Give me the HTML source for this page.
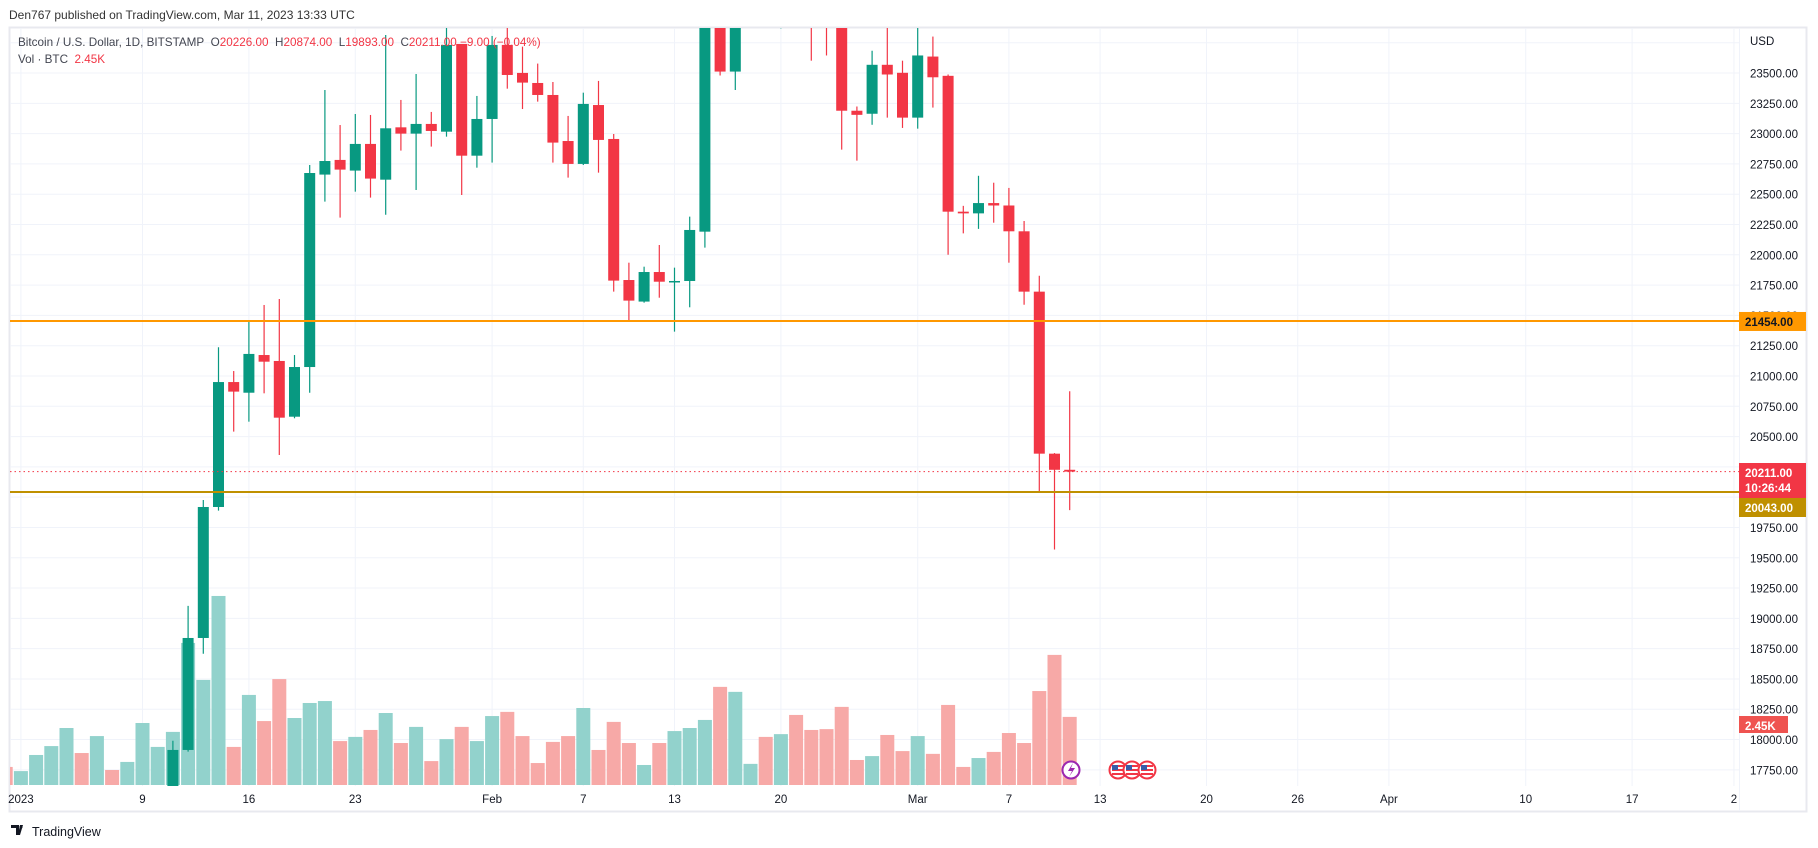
<!DOCTYPE html>
<html><head><meta charset="utf-8"><style>
html,body{margin:0;padding:0;background:#fff;overflow:hidden;width:1818px;height:848px;}
svg{display:block;font-family:"Liberation Sans",sans-serif;}
</style></head><body>
<svg id="chart" width="1818" height="848" viewBox="0 0 1818 848">
<text x="9" y="19" font-size="12" fill="#333">Den767 published on TradingView.com, Mar 11, 2023 13:33 UTC</text>
<rect x="9.5" y="27.5" width="1797" height="784" fill="#fff" stroke="#e8e9ef" stroke-width="2"/>
<g id="grid"></g>
<defs><clipPath id="pane"><rect x="10" y="28" width="1729" height="758"/></clipPath></defs>
<g id="vol" clip-path="url(#pane)"></g>
<g id="candles" clip-path="url(#pane)"></g>
<g id="lines"></g>
<g id="axis"></g>
<g id="taxis"></g>
<g>
<text x="18" y="46" font-size="11.7" fill="#434651">Bitcoin / U.S. Dollar, 1D, BITSTAMP&#160;&#160;O<tspan fill="#f23645">20226.00</tspan>&#160;&#160;H<tspan fill="#f23645">20874.00</tspan>&#160;&#160;L<tspan fill="#f23645">19893.00</tspan>&#160;&#160;C<tspan fill="#f23645">20211.00 −9.00 (−0.04%)</tspan></text>
<text x="18" y="63" font-size="11.7" fill="#434651">Vol · BTC&#160;&#160;<tspan fill="#f23645">2.45K</tspan></text>
</g>
<g>
<circle cx="1071" cy="770" r="8.5" fill="#fff" stroke="#9c27b0" stroke-width="2"/>
<path d="M1073 763 L1068 771 L1072 771 L1069 777 L1075 768 L1071 768 Z" fill="#9c27b0"/>
<g>
<circle cx="1118" cy="770" r="8.5" fill="#fff" stroke="#f23645" stroke-width="2"/>
<rect x="1112" y="765" width="12" height="10" fill="#f23645"/><rect x="1112" y="767" width="12" height="2" fill="#fff"/><rect x="1112" y="771" width="12" height="2" fill="#fff"/><rect x="1112" y="765" width="6" height="5" fill="#3a5ca8"/>
<circle cx="1132" cy="770" r="8.5" fill="#fff" stroke="#f23645" stroke-width="2"/>
<rect x="1126" y="765" width="12" height="10" fill="#f23645"/><rect x="1126" y="767" width="12" height="2" fill="#fff"/><rect x="1126" y="771" width="12" height="2" fill="#fff"/><rect x="1126" y="765" width="6" height="5" fill="#3a5ca8"/>
<circle cx="1147" cy="770" r="8.5" fill="#fff" stroke="#f23645" stroke-width="2"/>
<rect x="1141" y="765" width="12" height="10" fill="#f23645"/><rect x="1141" y="767" width="12" height="2" fill="#fff"/><rect x="1141" y="771" width="12" height="2" fill="#fff"/><rect x="1141" y="765" width="6" height="5" fill="#3a5ca8"/>
</g></g>
<g>
<path d="M11 825 h8 v10 h-3 v-7 h-5 Z M20 825 h3 l-3 10 h-2 Z" fill="#131722"/>
<circle cx="21" cy="827" r="1.5" fill="#131722"/>
<text x="32" y="836" font-size="12.5" fill="#131722">TradingView</text>
</g>
</svg>
<script>
const NS='http://www.w3.org/2000/svg';
const startDay=-1;
const opens =[16600,16540,16620,16680,16690,16860,16830,16950,16940,17130,17190,17440,17914,18838,19919,20950,20862,21173,21124,20664,21074,22662,22783,22695,22915,22620,23052,23000,23080,23016,23740,22818,23121,23732,23501,23418,23319,22939,22750,23236,22956,21792,21614,21858,21778,21784,22191,24330,23512,24570,24630,24280,24830,24440,24180,23940,23189,23164,23568,23502,23132,23636,23477,22356,22342,22427,22407,22194,21696,20359,20226];
const highs =[16630,16630,16780,16770,16990,16880,16990,16970,17180,17390,17490,17990,19103,19977,21237,21041,21448,21586,21635,21173,22741,23360,23071,23162,23154,23814,23278,23492,23179,23883,23740,23311,23806,23883,23718,23578,23426,23146,23338,23435,22997,21935,21902,22081,21894,22315,24380,25250,24870,24900,25180,25080,25280,24470,24590,24130,23224,23684,23900,23602,24000,23801,23488,22404,22652,22595,22552,22279,21827,20364,20874];
const lows  =[16480,16490,16550,16600,16660,16760,16700,16910,16910,17100,17150,17320,17900,18708,19889,20541,20623,20857,20348,20651,20862,22439,22307,22521,22472,22331,22860,22535,22893,22975,22494,22719,22761,23371,23203,23264,22761,22637,22741,22678,21696,21448,21605,21646,21366,21567,22059,23480,23360,24450,24270,23869,23900,23602,23645,22868,22777,23073,23132,23047,23041,23215,22000,22177,22214,22265,21935,21588,20046,19568,19893];
const closes=[16540,16620,16680,16690,16860,16830,16950,16940,17130,17190,17440,17914,18838,19919,20950,20871,21182,21118,20656,21074,22675,22774,22703,22915,22629,23044,23000,23080,23022,23732,22818,23121,23732,23484,23421,23319,22926,22750,23245,22948,21787,21622,21858,21778,21784,22205,24330,23512,24570,24630,24280,24830,24440,24180,23940,23189,23155,23568,23488,23132,23645,23465,22356,22342,22427,22407,22194,21696,20359,20226,20211];
const volumes=[0.65,0.50,1.08,1.40,2.05,1.15,1.76,0.54,0.83,2.23,1.37,1.91,5.11,3.78,6.80,1.37,3.24,2.30,3.81,2.41,2.95,3.02,1.58,1.73,1.98,2.59,1.51,2.09,0.86,1.65,2.09,1.58,2.48,2.63,1.76,0.79,1.55,1.76,2.77,1.26,2.27,1.51,0.72,1.51,1.94,2.05,2.34,3.53,3.35,0.76,1.73,1.83,2.52,1.98,2.01,2.81,0.90,1.04,1.80,1.22,1.76,1.12,2.88,0.65,0.97,1.19,1.87,1.51,3.38,4.68,2.45];
const priceTicks=[23500,23250,23000,22750,22500,22250,22000,21750,21500,21250,21000,20750,20500,20250,20000,19750,19500,19250,19000,18750,18500,18250,18000,17750];
const timeLabels=['2023','9','16','23','Feb','7','13','20','Mar','7','13','20','26','Apr','10','17','2'];
const timeLabelDays=[0,8,15,22,31,37,43,50,59,65,71,78,84,90,99,106,112.7];
const levelPrices=[21454,20043];
const lastPrice=20211;

function xOf(d){return 20.9+15.2*d;}
function yP(p){return 73.04+(23500-p)*0.12118;}
function yV(v){return 785-v*27.8;}
const G='#089981',R='#f23645';
function mk(tag,attrs,parent){const e=document.createElementNS(NS,tag);for(const k in attrs)e.setAttribute(k,attrs[k]);parent.appendChild(e);return e;}

const grid=document.getElementById('grid');
priceTicks.concat([23750]).forEach(p=>{const l=mk('line',{x1:10,x2:1739,y1:yP(p),y2:yP(p),stroke:'#f0f3fa','stroke-width':1},grid);

});
timeLabelDays.forEach(d=>{const l=mk('line',{x1:xOf(d),x2:xOf(d),y1:28,y2:786,stroke:'#f0f3fa','stroke-width':1},grid);

});

const vg=document.getElementById('vol');
volumes.forEach((v,i)=>{const up=closes[i]>=opens[i];const x=xOf(startDay+i);
const r=mk('rect',{x:x-7,y:yV(v),width:14,height:785-yV(v),fill:up?'#92d2cc':'#f7a9a7'},vg);

});

const cg=document.getElementById('candles');
opens.forEach((o,i)=>{const c=closes[i],up=c>=o,col=up?G:R,x=xOf(startDay+i);
const g=mk('g',{},cg);


mk('line',{x1:x,x2:x,y1:yP(highs[i]),y2:yP(lows[i]),stroke:col,'stroke-width':1.2},g);
const top=yP(Math.max(o,c)),bot=yP(Math.min(o,c));
mk('rect',{x:x-5.5,y:top,width:11,height:Math.max(1.5,bot-top),fill:col},g);});

const lg=document.getElementById('lines');
const lc=['#ff9800','#bf9000'];
levelPrices.forEach((p,i)=>{const l=mk('line',{x1:10,x2:1739,y1:yP(p),y2:yP(p),stroke:lc[i],'stroke-width':2},lg);

});
const pl=mk('line',{x1:10,x2:1739,y1:yP(lastPrice),y2:yP(lastPrice),stroke:R,'stroke-width':1,'stroke-dasharray':'1.5,3'},lg);



const ax=document.getElementById('axis');
mk('line',{x1:1739.5,x2:1739.5,y1:28,y2:811,stroke:'#f0f3fa'},ax);
const usd=mk('text',{x:1750,y:45,'font-size':11.5,fill:'#131722'},ax);usd.textContent='USD';


priceTicks.forEach(p=>{const t=mk('text',{x:1750,y:yP(p)+4.5,'font-size':11.5,fill:'#131722'},ax);t.textContent=p.toFixed(2);

});
function tag(y,h,fill,lines,col,w){const g=mk('g',{},ax);mk('rect',{x:1739,y:y,width:w||67,height:h,fill:fill},g);
lines.forEach((s,k)=>{const t=mk('text',{x:1745,y:y+14+k*15,'font-size':11.5,fill:col,'font-weight':'bold'},g);t.textContent=s;});return g;}
const t1=tag(yP(21454)-9,19,'#ff9800',['21454.00'],'#131722');


const t2=tag(463,35,R,['20211.00','10:26:44'],'#fff');


const t3=tag(498,19,'#bf9000',['20043.00'],'#fff');


const t4=tag(716,17,'#ef5350',['2.45K'],'#fff',49);



const ta=document.getElementById('taxis');
timeLabels.forEach((s,i)=>{const t=mk('text',{x:xOf(timeLabelDays[i]),y:803,'font-size':11.5,fill:'#131722','text-anchor':'middle'},ta);t.textContent=s;

});
</script>
</body></html>
